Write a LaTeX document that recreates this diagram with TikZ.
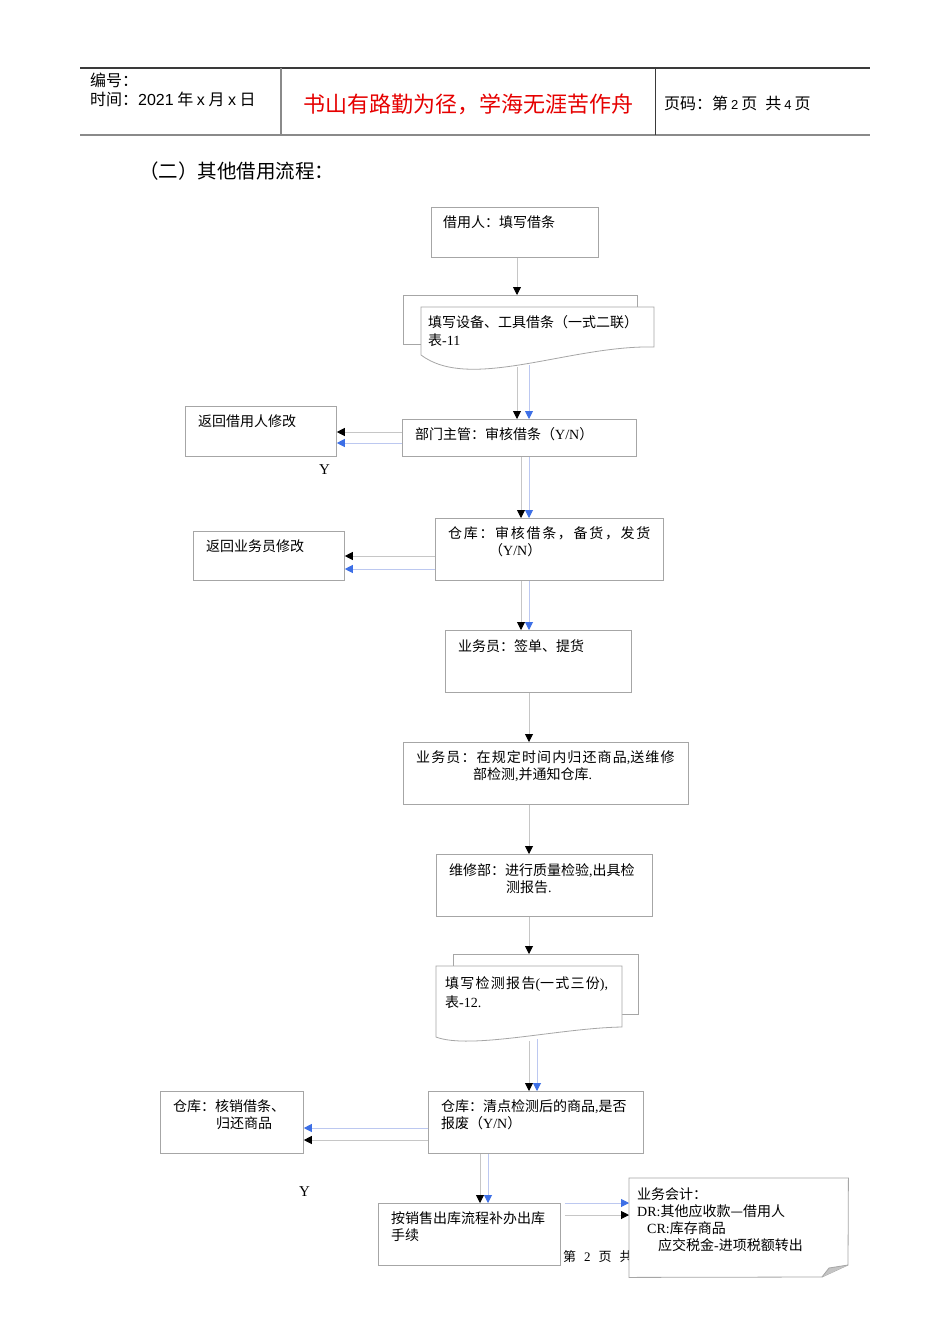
\documentclass[tikz,border=0pt]{standalone}
\usepackage{fontspec}
\setmainfont{Liberation Serif}
\setsansfont{Liberation Sans}
\newfontfamily\cjk{Noto Sans CJK SC}
\newfontfamily\cjkspA[LetterSpace=12]{Noto Sans CJK SC}
\newfontfamily\cjkspB[LetterSpace=8]{Noto Sans CJK SC}
\newfontfamily\cjkspC[LetterSpace=9]{Noto Sans CJK SC}
\usetikzlibrary{arrows.meta,calc}
\definecolor{boxgray}{HTML}{A6A6A6}
\definecolor{lgray}{HTML}{C6C6C6}
\definecolor{lblue}{HTML}{BCC8F0}
\definecolor{tipblue}{HTML}{3D6FE6}
\definecolor{hred}{HTML}{E60000}
\definecolor{hdark}{HTML}{3A3A3A}
\definecolor{hgray}{HTML}{8A8A8A}
\definecolor{foldgray}{HTML}{C4C4C4}
\newcommand{\lat}[1]{{\rmfamily #1}}
\newcommand{\lats}[1]{{\sffamily #1}}
\begin{document}
\begin{tikzpicture}[x=1pt,y=-1pt,
  boxline/.style={draw=boxgray, line width=0.8pt},
  box/.style={boxline, inner sep=0, anchor=north west, fill=white},
  ghost/.style={inner sep=0, anchor=north west, shape=rectangle},
  txt/.style={inner sep=0, anchor=base west, font=\cjk\fontsize{14}{17}\selectfont},
  hd/.style={inner sep=0, anchor=base west, font=\cjk\fontsize{16}{19}\selectfont},
  ck/.style={draw=lgray, line width=0.9pt, -{Triangle[length=8pt,width=8pt,color=black]}},
  cb/.style={draw=lblue, line width=0.9pt, -{Triangle[length=8pt,width=8pt,color=tipblue]}}]
\fill[white] (0,0) rectangle (950,1344);
\useasboundingbox (0,0) rectangle (950,1344);

% header
\draw[hdark, line width=1.2pt] (80,68) -- (870,68);
\draw[hgray, line width=2pt] (80,135) -- (870,135);
\draw[hgray, line width=1.2pt] (281,68) -- (281,135);
\draw[hdark, line width=1pt] (655,68) -- (655,135);
\node[hd] (h1) at (90,86) {编号：};
\node[hd] (h2) at (90,105) {时间：\lats{2021} 年 \lats{x} 月 \lats{x} 日};
\node[inner sep=0, anchor=base, font=\cjk\fontsize{22}{26}\selectfont, text=hred] (motto) at (468,112) {书山有路勤为径，学海无涯苦作舟};
\node[hd] (pg) at (664,109) {页码：第\hspace{3pt}\lats{\fontsize{13}{15}\selectfont 2}\hspace{3pt}页\hspace{8pt}共\hspace{3pt}\lats{\fontsize{13}{15}\selectfont 4}\hspace{3pt}页};

\node[inner sep=0, anchor=base west, font=\cjk\fontsize{19.5}{22}\selectfont] (title) at (139,178) {（二）其他借用流程：};

% boxes
\node[box, minimum width=167pt, minimum height=50pt] (b1) at (431,207) {};
\node[txt] (t1) at (443,227) {借用人：填写借条};

% document 1
\node[ghost, minimum width=234pt, minimum height=49pt] (d1b) at (403,295) {};
\node[ghost, minimum width=233pt, minimum height=48pt] (d1) at (421,307) {};
\draw[boxline] (421,344) -- (403,344) -- (403,295) -- (637,295) -- (637,307);
\draw[boxline, fill=white] (421,307) -- (654,307) -- (654,347) .. controls (570,345) and (470,392) .. (421,355) -- cycle;
\node[txt] (td1a) at (428,327) {填写设备、工具借条（一式二联）};
\node[txt] (td1b) at (428,345) {表\lat{-11}};

\node[box, minimum width=234pt, minimum height=37pt] (b3) at (402,419) {};
\node[txt] (t3) at (415,439) {部门主管：审核借条（\lat{Y/N}）};
\node[box, minimum width=151pt, minimum height=50pt] (b2) at (185,406) {};
\node[txt] (t2) at (198,426) {返回借用人修改};
\node[inner sep=0, anchor=base west, font=\rmfamily\fontsize{15}{17}\selectfont] (y1) at (319,474) {Y};

\node[box, minimum width=228pt, minimum height=62pt] (b4) at (435,518) {};
\node[txt, font=\cjkspA\fontsize{14}{17}\selectfont] (t4a) at (448,538) {仓库：审核借条，备货，发货};
\node[txt] (t4b) at (489,555) {（\lat{Y/N}）};
\node[box, minimum width=151pt, minimum height=49pt] (b5) at (193,531) {};
\node[txt] (t5) at (206,551) {返回业务员修改};

\node[box, minimum width=186pt, minimum height=62pt] (b6) at (445,630) {};
\node[txt] (t6) at (458,651) {业务员：签单、提货};

\node[box, minimum width=285pt, minimum height=62pt] (b7) at (403,742) {};
\node[txt, font=\cjkspB\fontsize{14}{17}\selectfont] (t7a) at (416,762) {业务员：在规定时间内归还商品\lat{,}送维修};
\node[txt] (t7b) at (473,779) {部检测\lat{,}并通知仓库\lat{.}};

\node[box, minimum width=216pt, minimum height=62pt] (b8) at (436,854) {};
\node[txt] (t8a) at (449,875) {维修部：进行质量检验\lat{,}出具检};
\node[txt] (t8b) at (506,892) {测报告\lat{.}};

% document 2
\node[ghost, minimum width=185pt, minimum height=60pt] (d2b) at (453,954) {};
\node[ghost, minimum width=186pt, minimum height=71pt] (d2) at (436,966) {};
\draw[boxline] (453,966) -- (453,954) -- (638,954) -- (638,1014) -- (622,1014);
\draw[boxline, fill=white] (436,966) -- (622,966) -- (622,1027) .. controls (560,1028) and (470,1050) .. (436,1037) -- cycle;
\node[txt, font=\cjkspC\fontsize{14}{17}\selectfont] (td2a) at (445,988) {填写检测报告\lat{(}一式三份\lat{),}};
\node[txt] (td2b) at (445,1007) {表\lat{-12.}};

\node[box, minimum width=215pt, minimum height=62pt] (b9) at (428,1091) {};
\node[txt] (t9a) at (441,1111) {仓库：清点检测后的商品\lat{,}是否};
\node[txt] (t9b) at (441,1128) {报废（\lat{Y/N}）};
\node[box, minimum width=143pt, minimum height=62pt] (b10) at (160,1091) {};
\node[txt] (t10a) at (173,1111) {仓库：核销借条、};
\node[txt] (t10b) at (216,1128) {归还商品};
\node[inner sep=0, anchor=base west, font=\rmfamily\fontsize{15}{17}\selectfont] (y2) at (299,1196) {Y};

\node[box, minimum width=182pt, minimum height=62pt] (b11) at (378,1203) {};
\node[txt] (t11a) at (391,1223) {按销售出库流程补办出库};
\node[txt] (t11b) at (391,1240) {手续};

% footer text (partly covered by the note)
\node[inner sep=0, anchor=base west, font=\cjk\fontsize{13}{15}\selectfont] (foot) at (563,1261) {第\hspace{8pt}\lat{2}\hspace{8pt}页\hspace{8pt}共};

% note
\node[ghost, minimum width=219pt, minimum height=99pt] (note) at (629,1178) {};
\draw[boxline, fill=white] (note.north west) -- (note.north east) -- (848,1265) -- (822,1277) -- (note.south west) -- cycle;
\fill[foldgray] (822,1277) -- (848,1265) -- (829,1268) -- cycle;
\draw[boxline] (822,1277) -- (829,1268) -- (848,1265);
\node[txt] (tn1) at (637,1199) {业务会计：};
\node[txt] (tn2) at (637,1216) {\lat{DR:}其他应收款—借用人};
\node[txt] (tn3) at (647,1233) {\lat{CR:}库存商品};
\node[txt] (tn4) at (658,1250) {应交税金\lat{-}进项税额转出};

% connectors
\draw[ck] (517,0 |- b1.south) -- (517,0 |- d1b.north);
\draw[ck] ($(517,0 |- d1.south)+(0,12)$) -- (517,0 |- b3.north);
\draw[cb] ($(529,0 |- d1.south)+(0,10)$) -- (529,0 |- b3.north);
\draw[ck] (b3.west |- 0,432) -- (b2.east |- 0,432);
\draw[cb] (b3.west |- 0,443) -- (b2.east |- 0,443);
\draw[ck] (521,0 |- b3.south) -- (521,0 |- b4.north);
\draw[cb] (529,0 |- b3.south) -- (529,0 |- b4.north);
\draw[ck] (b4.west |- 0,556) -- (b5.east |- 0,556);
\draw[cb] (b4.west |- 0,569) -- (b5.east |- 0,569);
\draw[ck] (521,0 |- b4.south) -- (521,0 |- b6.north);
\draw[cb] (529,0 |- b4.south) -- (529,0 |- b6.north);
\draw[ck] (529,0 |- b6.south) -- (529,0 |- b7.north);
\draw[ck] (529,0 |- b7.south) -- (529,0 |- b8.north);
\draw[ck] (529,0 |- b8.south) -- (529,0 |- d2b.north);
\draw[ck] ($(529,0 |- d2.south)+(0,4)$) -- (529,0 |- b9.north);
\draw[cb] ($(537,0 |- d2.south)+(0,2)$) -- (537,0 |- b9.north);
\draw[cb] (b9.west |- 0,1128) -- (b10.east |- 0,1128);
\draw[ck] (b9.west |- 0,1140) -- (b10.east |- 0,1140);
\draw[ck] (480,0 |- b9.south) -- (480,0 |- b11.north);
\draw[cb] (488,0 |- b9.south) -- (488,0 |- b11.north);
\draw[cb] ($(b11.east |- 0,1203)+(4,0)$) -- (note.west |- 0,1203);
\draw[ck] ($(b11.east |- 0,1215)+(4,0)$) -- (note.west |- 0,1215);
\end{tikzpicture}
\end{document}
